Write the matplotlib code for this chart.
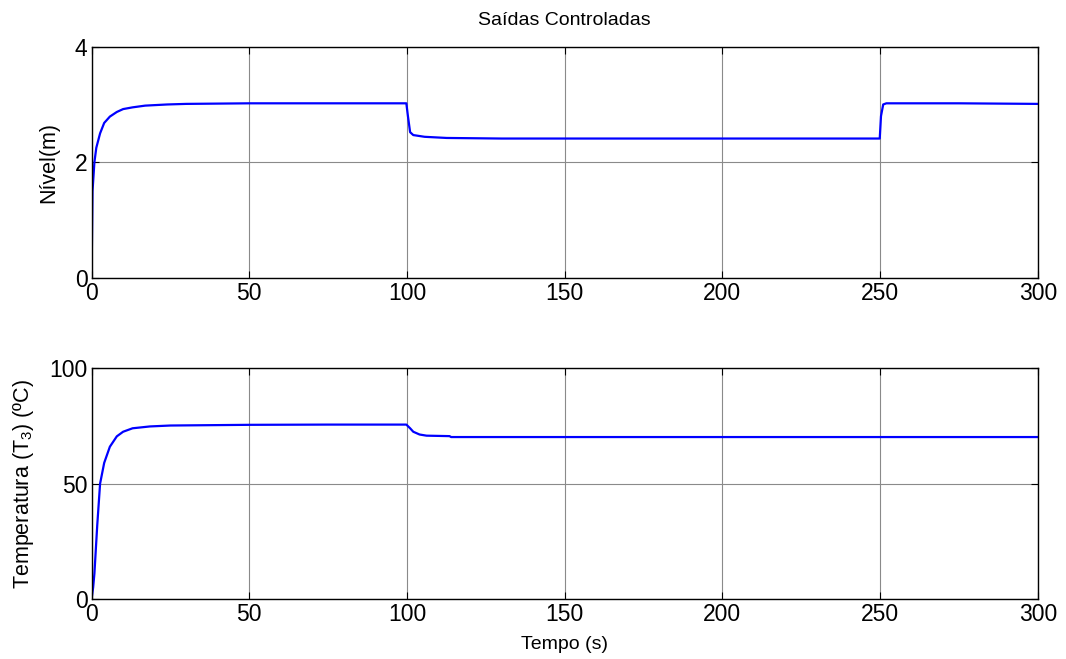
import matplotlib
matplotlib.use('Agg')
import matplotlib.pyplot as plt

plt.rcParams['font.family'] = ['Liberation Sans', 'DejaVu Sans']
plt.rcParams['mathtext.default'] = 'regular'

# nivel do tanque (m)
t_nivel = [0, 0.3, 0.9, 1.5, 2.7, 4, 5.8, 8, 10, 13, 17, 24, 30, 50, 75, 99.8,
           100.3, 101, 102, 105.6, 112.6, 130, 200, 249.9,
           250.3, 251, 252, 275, 300]
nivel = [0, 1.5, 2.0, 2.25, 2.5, 2.68, 2.79, 2.87, 2.92, 2.95, 2.98, 3.0, 3.01, 3.02, 3.02, 3.02,
         2.8, 2.52, 2.47, 2.44, 2.42, 2.41, 2.41, 2.41,
         2.8, 3.0, 3.02, 3.02, 3.01]

# temperatura T3 (ºC)
t_temp = [0, 0.5, 0.9, 1.8, 2.7, 4, 5.8, 8, 10, 13, 18.5, 25, 50, 75, 99.8,
          101, 102, 104, 106.2, 113.5, 114, 200, 300]
temp = [0, 5, 11, 32, 50, 59, 66, 70.5, 72.5, 74, 74.8, 75.2, 75.5, 75.6, 75.6,
        74, 72.5, 71.3, 70.8, 70.6, 70.2, 70.2, 70.2]

x_ticks = [0, 50, 100, 150, 200, 250, 300]
nivel_ticks = [0, 2, 4]
temp_ticks = [0, 50, 100]


def style_axes(ax):
    ax.grid(True, color='#8a8a8a', linewidth=0.8)
    ax.tick_params(direction='in', length=5, width=0.8, top=True, right=True,
                   labelsize=16.5, pad=3)
    for s in ax.spines.values():
        s.set_linewidth(1.0)
    ax.set_xlim(0, 300)
    ax.set_xticks(x_ticks)


fig = plt.figure(figsize=(10.66, 6.59), dpi=100)
ax1 = fig.add_axes([0.0859, 0.5786, 0.8876, 0.3505])
ax2 = fig.add_axes([0.0859, 0.0911, 0.8876, 0.3500])

ax1.plot(t_nivel, nivel, color='#0000ff', linewidth=1.6)
style_axes(ax1)
ax1.set_ylim(0, 4)
ax1.set_yticks(nivel_ticks)
ax1.set_ylabel('Nível(m)', fontsize=15.5)
ax1.yaxis.set_label_coords(-0.034, 0.5)
ax1.set_title('Saídas Controladas', fontsize=14, pad=16)

ax2.plot(t_temp, temp, color='#0000ff', linewidth=1.6)
style_axes(ax2)
ax2.set_ylim(0, 100)
ax2.set_yticks(temp_ticks)
ax2.set_ylabel('Temperatura (T$_3$) (ºC)', fontsize=15.5)
ax2.yaxis.set_label_coords(-0.059, 0.5)
ax2.set_xlabel('Tempo (s)', fontsize=14, labelpad=7)

fig.savefig('out.png', dpi=100)
